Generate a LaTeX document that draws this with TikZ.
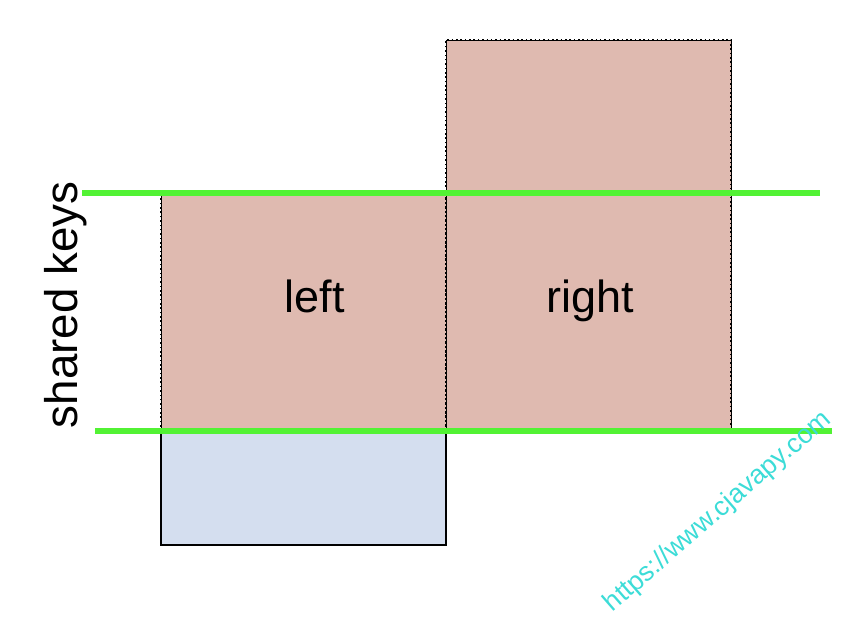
\documentclass[tikz,border=0pt]{standalone}
\usepackage{fontspec}
\setmainfont{Liberation Sans}
\usetikzlibrary{positioning}
\definecolor{sharedpink}{RGB}{223,186,176}
\definecolor{restblue}{RGB}{212,222,239}
\definecolor{keygreen}{RGB}{82,242,52}
\definecolor{markcyan}{RGB}{60,220,215}
\tikzset{
  sharedbox/.style={fill=sharedpink, draw=black, line width=0.5pt},
  sharededge/.style={draw=black, line width=1.1pt, dotted},
  restbox/.style={fill=restblue, draw=black, line width=0.9pt},
  keyline/.style={keygreen, line width=3.6pt},
  boxlab/.style={font=\fontsize{32}{36}\selectfont, anchor=base},
  sidelab/.style={font=\fontsize{32.5}{36}\selectfont, rotate=90},
  watermark/.style={font=\fontsize{19}{22}\selectfont, text=markcyan, rotate=41},
}
\begin{document}
\begin{tikzpicture}[x=0.025cm,y=0.025cm]
  \path[use as bounding box] (0,0) rectangle (856,638);

  % shared part of both tables
  \draw[sharedbox] (161,207) rectangle (446,445);
  \draw[sharededge] (161,207) rectangle (446,445);
  \draw[sharedbox] (446,207) rectangle (731,598);
  \draw[sharededge] (446,207) rectangle (731,598);
  % rest of the left table
  \draw[restbox] (161,93) rectangle (446,207);

  \node[boxlab] (leftlab) at (315,325) {left};
  \node[boxlab] (rightlab) at (590,325) {right};

  % key range
  \coordinate (topA) at (82,445);
  \coordinate (topB) at (820,445);
  \coordinate (botA) at (95,207);
  \coordinate (botB) at (832,207);
  \draw[keyline] (topA) -- (topB);
  \draw[keyline] (botA) -- (botB);

  \node[sidelab] (keyslab) at (66,333) {shared keys};
  \node[watermark] (site) at (718,126) {https://www.cjavapy.com};
\end{tikzpicture}
\end{document}
